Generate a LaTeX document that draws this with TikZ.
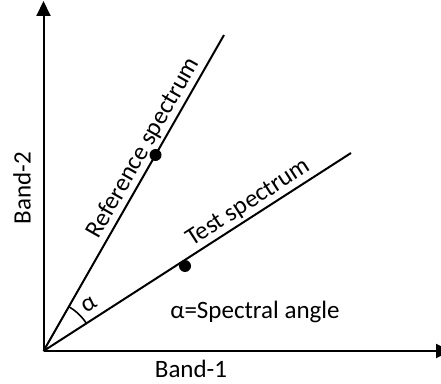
\documentclass[tikz,border=0pt]{standalone}
\usepackage{fontspec}
\setmainfont{Carlito}
\usetikzlibrary{arrows.meta}
\tikzset{
  axis/.style={line width=2pt, -{Triangle[width=14pt,length=15pt]}},
  spec/.style={line width=2pt},
  lbl/.style={font=\fontsize{25}{30}\selectfont, inner sep=1pt},
  dotpt/.style={circle, fill=black, inner sep=0pt, minimum size=12pt},
}
\begin{document}
\begin{tikzpicture}[x=1pt,y=1pt]
\useasboundingbox (0,0) rectangle (441,383);
\coordinate (O) at (43.5,32);
\coordinate (Ytip) at (43.5,382);
\coordinate (Xtip) at (451,32);
\coordinate (Rend) at (224,348);
\coordinate (Tend) at (351,230);
\draw[axis] (O) -- (Ytip);
\draw[axis] (O) -- (Xtip);
\draw[spec] (O) -- (Rend) node[lbl, pos=0.62, sloped, above, inner sep=2pt] (rlab) {Reference spectrum};
\draw[spec] (O) -- (Tend) node[lbl, pos=0.69, sloped, above, inner sep=2pt] (tlab) {Test spectrum};
\node[dotpt] (rdot) at (155.5,228) {};
\node[dotpt] (tdot) at (185,117) {};
\draw[line width=1.6pt] ([shift={(32.8:51)}]O) arc[start angle=32.8, end angle=60.3, radius=51];
\node[lbl, rotate=32] (alpha) at (89,78) {α};
\node[lbl, anchor=base] (b1) at (191,6) {Band-1};
\node[lbl, anchor=base, rotate=90] (b2) at (30.5,195) {Band-2};
\node[lbl, anchor=base] (sa) at (255,65) {α=Spectral angle};
\end{tikzpicture}
\end{document}
